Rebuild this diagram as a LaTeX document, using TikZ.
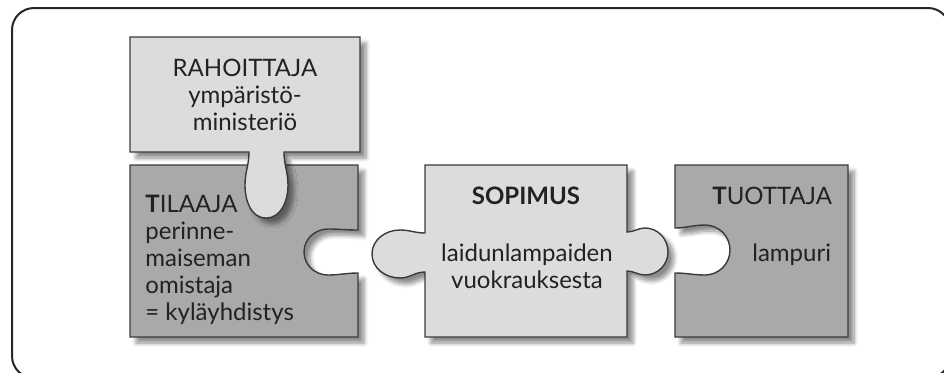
\documentclass[tikz,border=0pt]{standalone}
\usepackage{fontspec}
\setmainfont{Lato}
\usepackage{tikz}
\usetikzlibrary{shadows.blur}

\definecolor{piecelight}{HTML}{DCDCDC}
\definecolor{piecedark}{HTML}{A9A9AB}
\definecolor{edgegray}{HTML}{3A3A3A}
\definecolor{textgray}{HTML}{222222}

\tikzset{
  piece/.style={draw=edgegray, line width=0.7pt,
    blur shadow={shadow xshift=3pt, shadow yshift=-3pt, shadow opacity=45, shadow blur steps=8}},
  lightpiece/.style={piece, fill=piecelight},
  darkpiece/.style={piece, fill=piecedark},
  piecetext/.style={inner sep=0pt, text=textgray, font=\fontsize{12}{13.5}\selectfont}
}

\begin{document}
\begin{tikzpicture}[x=0.5pt, y=0.5pt]
  \useasboundingbox (0,0) rectangle (944,372);
  % Frame
  \draw[line width=1pt, rounded corners=11pt, color=black!85] (12,364) rectangle (950,-6);
  % Tilaaja, hole on the right
  \draw[darkpiece] (130,207) -- (358,207) -- (358,142)
    to[out=180,in=0] (328,143) to[out=180,in=90] (304,120)
    to[out=-90,in=180] (328,97) to[out=0,in=180] (358,99)
    -- (358,35) -- (130,35) -- cycle;
  % Rahoittaja, tab going down
  \draw[lightpiece] (130,335) -- (360,335) -- (360,220) -- (284,220)
    to[out=-90,in=90] (288,187) to[out=-90,in=0] (266,154)
    to[out=180,in=-90] (245,187) to[out=90,in=-90] (249,220)
    -- (130,220) -- cycle;
  % Sopimus, knobs on both sides
  \draw[lightpiece] (425,207) -- (627,207) -- (627,140)
    to[out=0,in=180] (645,144) to[out=0,in=90] (668,120)
    to[out=-90,in=0] (645,97) to[out=180,in=0] (627,101)
    -- (627,35) -- (425,35) -- (425,100)
    to[out=180,in=0] (400,94) to[out=180,in=-90] (372,118)
    to[out=90,in=180] (400,142) to[out=0,in=180] (425,139) -- cycle;
  % Tuottaja, hole on the left
  \draw[darkpiece] (675,207) -- (848,207) -- (848,35) -- (675,35) -- (675,99)
    to[out=0,in=180] (705,97) to[out=0,in=-90] (730,122)
    to[out=90,in=0] (705,147) to[out=180,in=0] (675,144) -- cycle;
  % Texts
  \node[piecetext, anchor=north, align=center] (rahoittaja) at (245,313)
    {RAHOITTAJA\\ympäristö-\\ministeriö};
  \node[piecetext, anchor=north west, align=left] (tilaaja) at (145,177)
    {\textbf{T}ILAAJA\\perinne-\\maiseman\\omistaja\\= kyläyhdistys};
  \node[piecetext, anchor=north, font=\fontsize{12}{13.5}\selectfont\bfseries] (sopimus) at (526,185)
    {SOPIMUS};
  \node[piecetext, anchor=north, align=center] (vuokraus) at (527,129)
    {laidunlampaiden\\vuokrauksesta};
  \node[piecetext, anchor=north west] (tuottaja) at (712,185) {\textbf{T}UOTTAJA};
  \node[piecetext, anchor=north west] (lampuri) at (752,129) {lampuri};
\end{tikzpicture}
\end{document}
